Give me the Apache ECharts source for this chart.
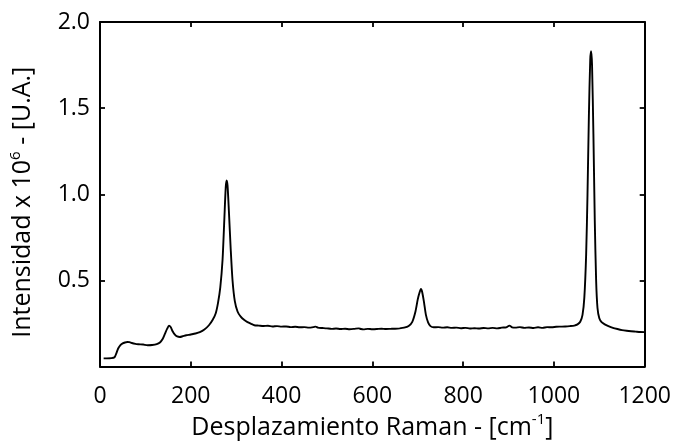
<!DOCTYPE html>
<html>
<head>
<meta charset="utf-8">
<script src="https://cdn.jsdelivr.net/npm/echarts@6/dist/echarts.min.js"></script>
<style>
  html, body { margin: 0; padding: 0; background: #fff; }
  #chart { width: 674px; height: 445px; }
</style>
</head>
<body>
<div id="chart"></div>
<script>
// Raman shift (cm^-1) and intensity (x 10^6, arbitrary units)
const ramanShift = [
  8, 15, 25, 32, 36, 40, 45, 50, 55, 60, 65, 70, 78, 85, 95, 105, 115, 125, 132, 138,
  143, 148, 152, 156, 160, 165, 170, 176, 182, 190, 200, 210, 220, 230, 240, 248, 255, 260, 265, 270,
  274, 277, 279, 281, 284, 288, 292, 297, 303, 310, 318, 325, 333, 340, 350, 360, 370, 380, 390, 400,
  410, 420, 430, 440, 450, 460, 470, 475, 480, 490, 500, 510, 520, 530, 540, 550, 560, 570, 575, 580,
  590, 600, 610, 620, 630, 640, 650, 660, 670, 680, 688, 695, 700, 704, 707, 710, 714, 718, 723, 728,
  735, 745, 755, 765, 775, 785, 795, 805, 815, 825, 835, 845, 855, 865, 875, 885, 895, 902, 908, 915,
  925, 935, 945, 955, 965, 975, 985, 995, 1005, 1015, 1025, 1035, 1045, 1052, 1058, 1063, 1067, 1071, 1074, 1077,
  1080, 1082, 1084, 1087, 1090, 1093, 1096, 1100, 1105, 1112, 1120, 1130, 1140, 1150, 1160, 1170, 1180, 1190, 1200
];
const intensity = [
  0.048, 0.048, 0.049, 0.054, 0.077, 0.105, 0.125, 0.135, 0.140, 0.143, 0.142, 0.137, 0.132, 0.130, 0.128, 0.124, 0.125, 0.130, 0.140, 0.160,
  0.190, 0.220, 0.238, 0.228, 0.205, 0.185, 0.175, 0.172, 0.176, 0.182, 0.186, 0.192, 0.200, 0.215, 0.240, 0.270, 0.310, 0.370, 0.460, 0.620,
  0.860, 1.040, 1.080, 1.050, 0.900, 0.680, 0.500, 0.380, 0.320, 0.290, 0.270, 0.258, 0.248, 0.240, 0.238, 0.236, 0.237, 0.233, 0.235, 0.232,
  0.233, 0.229, 0.231, 0.228, 0.229, 0.226, 0.229, 0.232, 0.226, 0.224, 0.222, 0.219, 0.221, 0.218, 0.220, 0.217, 0.219, 0.222, 0.218, 0.216,
  0.219, 0.217, 0.218, 0.220, 0.218, 0.219, 0.220, 0.222, 0.226, 0.236, 0.260, 0.320, 0.390, 0.430, 0.450, 0.430, 0.370, 0.300, 0.255, 0.235,
  0.228, 0.229, 0.226, 0.228, 0.225, 0.226, 0.223, 0.225, 0.221, 0.223, 0.221, 0.224, 0.222, 0.225, 0.222, 0.226, 0.228, 0.238, 0.228, 0.226,
  0.229, 0.225, 0.227, 0.224, 0.228, 0.225, 0.229, 0.228, 0.231, 0.232, 0.233, 0.235, 0.238, 0.245, 0.260, 0.300, 0.400, 0.650, 1.000, 1.450,
  1.780, 1.830, 1.750, 1.350, 0.850, 0.500, 0.340, 0.280, 0.258, 0.245, 0.235, 0.225, 0.218, 0.212, 0.208, 0.205, 0.203, 0.201, 0.200
];
const xTicks = [0, 200, 400, 600, 800, 1000, 1200];
const yTicks = [0.5, 1.0, 1.5, 2.0];

const FONT = '"Open Sans", "Noto Sans", sans-serif';
const points = ramanShift.map((x, i) => [x, intensity[i]]);

const frame = { show: true, onZero: false, lineStyle: { color: '#000', width: 2 } };
const ticksIn = { show: true, inside: true, length: 5, lineStyle: { color: '#000', width: 1.8 } };

const chart = echarts.init(document.getElementById('chart'), null, { renderer: 'canvas' });
chart.setOption({
  animation: false,
  backgroundColor: '#fff',
  grid: { left: 97, right: 29, top: 22, bottom: 73, containLabel: false },
  xAxis: [
    {
      type: 'value', position: 'bottom', min: 0, max: 1200, interval: 200,
      axisLine: frame, axisTick: ticksIn, splitLine: { show: false },
      axisLabel: {
        color: '#000', fontFamily: FONT, fontSize: 23, margin: 18,
        formatter: v => (xTicks.includes(v) ? String(v) : '')
      },
      name: '{a|Desplazamiento Raman - [cm}{s|-1}{a|]}',
      nameLocation: 'middle', nameGap: 42,
      nameTextStyle: {
        rich: {
          a: { fontFamily: FONT, fontSize: 25, color: '#000', lineHeight: 30 },
          s: { fontFamily: FONT, fontSize: 15, color: '#000', lineHeight: 30, verticalAlign: 'top' }
        }
      }
    },
    {
      type: 'value', position: 'top', min: 0, max: 1200, interval: 200,
      axisLine: frame, axisTick: ticksIn, axisLabel: { show: false }, splitLine: { show: false }
    }
  ],
  yAxis: [
    {
      type: 'value', position: 'left', min: 0, max: 2, interval: 0.5,
      axisLine: frame, axisTick: ticksIn, splitLine: { show: false },
      axisLabel: {
        color: '#000', fontFamily: FONT, fontSize: 23, margin: 10,
        showMinLabel: false,
        formatter: v => (yTicks.some(t => Math.abs(t - v) < 1e-9) ? v.toFixed(1) : '')
      },
      name: '{a|Intensidad x 10}{s|6}{a| - [U.A.]}',
      nameLocation: 'middle', nameGap: 62,
      nameTextStyle: {
        padding: [0, 16, 0, 0],
        rich: {
          a: { fontFamily: FONT, fontSize: 25, color: '#000', lineHeight: 30 },
          s: { fontFamily: FONT, fontSize: 15, color: '#000', lineHeight: 30, verticalAlign: 'top' }
        }
      }
    },
    {
      type: 'value', position: 'right', min: 0, max: 2, interval: 0.5,
      axisLine: frame, axisTick: ticksIn, axisLabel: { show: false }, splitLine: { show: false }
    }
  ],
  series: [
    {
      type: 'line',
      xAxisIndex: 0,
      yAxisIndex: 0,
      data: points,
      showSymbol: false,
      smooth: 0.25,
      lineStyle: { color: '#000', width: 1.9 }
    }
  ]
});
</script>
</body>
</html>
